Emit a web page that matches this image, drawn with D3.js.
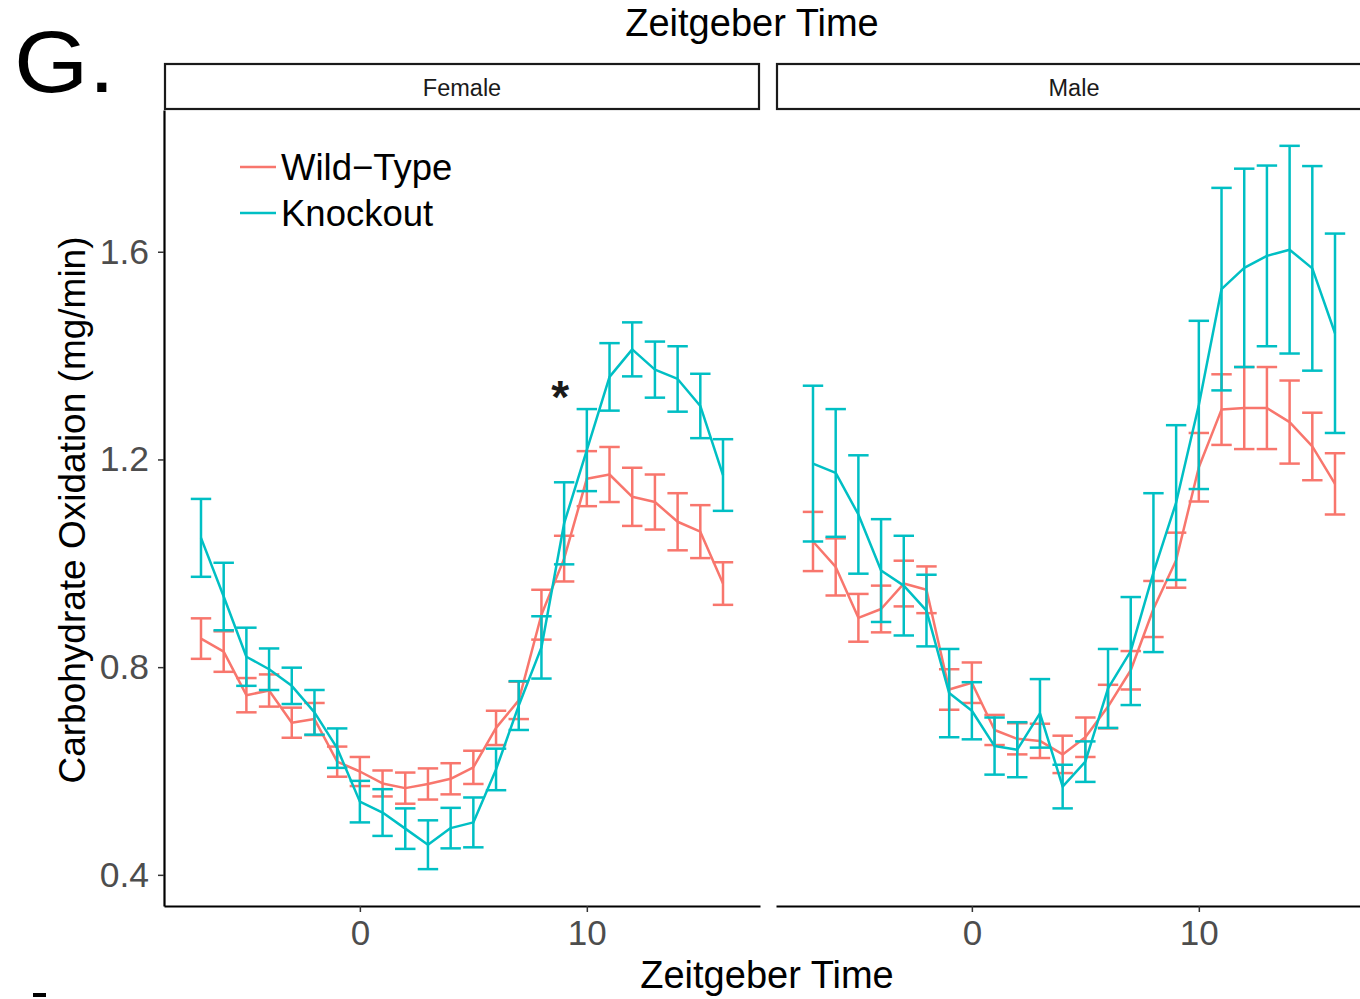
<!DOCTYPE html>
<html>
<head>
<meta charset="utf-8">
<script src="https://cdn.jsdelivr.net/npm/d3@7"></script>
<style>
  html, body { margin: 0; padding: 0; background: #fff; }
  svg { display: block; }
  text { font-family: "Liberation Sans", Arial, Helvetica, sans-serif; }
</style>
</head>
<body>
<svg id="chart" width="1360" height="999"></svg>
<script>
// ---------------- DATA ----------------
const times = [-7,-6,-5,-4,-3,-2,-1,0,1,2,3,4,5,6,7,8,9,10,11,12,13,14,15,16];
const panels = ["Female", "Male"];
const seriesNames = ["Wild\u2212Type", "Knockout"];
const seriesColors = ["#F8766D", "#00BFC4"];

const femaleWTMean = [0.855,0.830,0.746,0.755,0.693,0.700,0.618,0.599,0.576,0.567,0.575,0.585,0.607,0.683,0.736,0.901,1.009,1.163,1.171,1.128,1.118,1.080,1.061,0.961];
const femaleWTSe   = [0.039,0.039,0.033,0.031,0.029,0.031,0.029,0.028,0.025,0.030,0.030,0.030,0.032,0.033,0.036,0.048,0.044,0.053,0.053,0.056,0.053,0.055,0.051,0.041];
const femaleKOMean = [1.049,0.936,0.820,0.796,0.764,0.713,0.644,0.541,0.520,0.489,0.458,0.490,0.501,0.603,0.726,0.838,1.077,1.218,1.359,1.412,1.373,1.355,1.303,1.170];
const femaleKOSe   = [0.075,0.065,0.056,0.040,0.035,0.043,0.038,0.040,0.045,0.039,0.047,0.039,0.048,0.040,0.047,0.060,0.079,0.079,0.065,0.052,0.054,0.063,0.062,0.069];

const maleWTMean = [1.042,0.993,0.895,0.912,0.961,0.949,0.757,0.770,0.679,0.662,0.658,0.632,0.665,0.724,0.794,0.912,1.006,1.185,1.296,1.299,1.299,1.272,1.225,1.153];
const maleWTSe   = [0.057,0.055,0.046,0.045,0.044,0.045,0.039,0.039,0.029,0.030,0.033,0.036,0.038,0.042,0.037,0.054,0.053,0.066,0.068,0.079,0.079,0.080,0.065,0.059];
const maleKOMean = [1.192,1.174,1.094,0.986,0.957,0.909,0.750,0.716,0.648,0.641,0.711,0.570,0.618,0.759,0.831,0.982,1.117,1.305,1.528,1.569,1.592,1.604,1.568,1.443];
const maleKOSe   = [0.150,0.123,0.114,0.099,0.096,0.069,0.085,0.055,0.055,0.053,0.066,0.042,0.039,0.076,0.104,0.153,0.149,0.162,0.195,0.191,0.174,0.200,0.197,0.192];

const yTicks = [0.4, 0.8, 1.2, 1.6];
const xTicks = [0, 10];
const xTitle = "Zeitgeber Time";
const yTitle = "Carbohydrate Oxidation (mg/min)";
const panelLabel = "G.";
const sigTime = 9;       // female, significance marker position (time)
const sigValue = 1.29;   // baseline level of the marker
const sigLabel = "*";

// ---------------- LAYOUT ----------------
const svg = d3.select("#chart");
const panelW = 596;
const panelLefts = [164, 776];
const panelTop = 110, panelBottom = 906;
const stripTop = 64;
const xDomain = [-8.63, 17.63];
const y = d3.scaleLinear().domain([0.34, 1.873]).range([panelBottom, panelTop]);
const capHalf = 0.45;

const dataByPanel = {
  Female: [
    { name: seriesNames[0], color: seriesColors[0], mean: femaleWTMean, se: femaleWTSe },
    { name: seriesNames[1], color: seriesColors[1], mean: femaleKOMean, se: femaleKOSe }
  ],
  Male: [
    { name: seriesNames[0], color: seriesColors[0], mean: maleWTMean, se: maleWTSe },
    { name: seriesNames[1], color: seriesColors[1], mean: maleKOMean, se: maleKOSe }
  ]
};

const xScales = {};

panels.forEach((p, pi) => {
  const left = panelLefts[pi];
  const x = d3.scaleLinear().domain(xDomain).range([left, left + panelW]);
  xScales[p] = x;
  const g = svg.append("g").attr("class", "panel-" + p);

  // strip
  g.append("rect")
    .attr("x", left + 1).attr("y", stripTop)
    .attr("width", panelW - 2).attr("height", panelTop - stripTop - 1)
    .attr("fill", "#fff").attr("stroke", "#1a1a1a").attr("stroke-width", 2.2);
  g.append("text")
    .attr("x", left + panelW / 2).attr("y", 96)
    .attr("text-anchor", "middle")
    .attr("font-size", 23.5).attr("fill", "#1a1a1a")
    .text(p);

  // series
  dataByPanel[p].forEach(s => {
    const pts = times.map((t, i) => ({ t, m: s.mean[i], se: s.se[i] }));
    const eb = g.append("g");
    eb.selectAll("line.v").data(pts).join("line")
      .attr("x1", d => x(d.t)).attr("x2", d => x(d.t))
      .attr("y1", d => y(d.m - d.se)).attr("y2", d => y(d.m + d.se))
      .attr("stroke", s.color).attr("stroke-width", 2.5);
    eb.selectAll("line.top").data(pts).join("line")
      .attr("x1", d => x(d.t - capHalf)).attr("x2", d => x(d.t + capHalf))
      .attr("y1", d => y(d.m + d.se)).attr("y2", d => y(d.m + d.se))
      .attr("stroke", s.color).attr("stroke-width", 2.5);
    eb.selectAll("line.bot").data(pts).join("line")
      .attr("x1", d => x(d.t - capHalf)).attr("x2", d => x(d.t + capHalf))
      .attr("y1", d => y(d.m - d.se)).attr("y2", d => y(d.m - d.se))
      .attr("stroke", s.color).attr("stroke-width", 2.5);
    g.append("path").datum(pts)
      .attr("fill", "none").attr("stroke", s.color).attr("stroke-width", 2.5)
      .attr("stroke-linejoin", "round")
      .attr("d", d3.line().x(d => x(d.t)).y(d => y(d.m)));
  });

  // x axis
  const xa = g.append("g").attr("transform", `translate(0,${panelBottom})`)
    .call(d3.axisBottom(x).tickValues(xTicks).tickFormat(d3.format("d")).tickSizeInner(6).tickSizeOuter(0).tickPadding(8));
  xa.select(".domain").attr("stroke", "#000").attr("stroke-width", 2.2);
  xa.selectAll(".tick line").attr("stroke", "#333").attr("stroke-width", 1.5);
  xa.selectAll(".tick text").attr("font-size", 35).attr("fill", "#4D4D4D")
    .attr("font-family", "Liberation Sans, Arial, sans-serif");

  // y axis only on first panel
  if (pi === 0) {
    const ya = g.append("g").attr("transform", `translate(${left},0)`)
      .call(d3.axisLeft(y).tickValues(yTicks).tickFormat(d3.format(".1f")).tickSizeInner(6).tickSizeOuter(0).tickPadding(9));
    ya.select(".domain").attr("stroke", "#000").attr("stroke-width", 2.2);
    ya.selectAll(".tick line").attr("stroke", "#333").attr("stroke-width", 1.5);
    ya.selectAll(".tick text").attr("font-size", 35.5).attr("fill", "#4D4D4D")
      .attr("font-family", "Liberation Sans, Arial, sans-serif");
  }
});

// significance asterisk (female)
{
  const xf = xScales.Female;
  svg.append("text")
    .attr("x", xf(sigTime) - 4).attr("y", y(sigValue))
    .attr("text-anchor", "middle").attr("font-size", 46).attr("font-weight", "bold")
    .attr("fill", "#1a1a1a").text(sigLabel);
}

// legend
const legend = svg.append("g");
seriesNames.forEach((n, i) => {
  const ly = 167 + i * 46;
  legend.append("line").attr("x1", 240).attr("x2", 276).attr("y1", ly).attr("y2", ly)
    .attr("stroke", seriesColors[i]).attr("stroke-width", 2.5);
  legend.append("text").attr("x", 281).attr("y", ly + 13)
    .attr("font-size", 36.5).attr("fill", "#000").text(n);
});

// titles
svg.append("text").attr("x", 752).attr("y", 36).attr("text-anchor", "middle")
  .attr("font-size", 38).attr("fill", "#000").text(xTitle);
svg.append("text").attr("x", 767).attr("y", 988).attr("text-anchor", "middle")
  .attr("font-size", 38).attr("fill", "#000").text(xTitle);
svg.append("text").attr("transform", "translate(85,510) rotate(-90)").attr("text-anchor", "middle")
  .attr("font-size", 37).attr("fill", "#000").text(yTitle);
svg.append("text").attr("transform", "translate(14,92) scale(1.1,1)")
  .attr("font-size", 87).attr("fill", "#000").text(panelLabel);
// cut-off fragment of next panel label at bottom-left
svg.append("rect").attr("x", 33).attr("y", 993).attr("width", 13).attr("height", 4).attr("fill", "#000");
</script>
</body>
</html>
